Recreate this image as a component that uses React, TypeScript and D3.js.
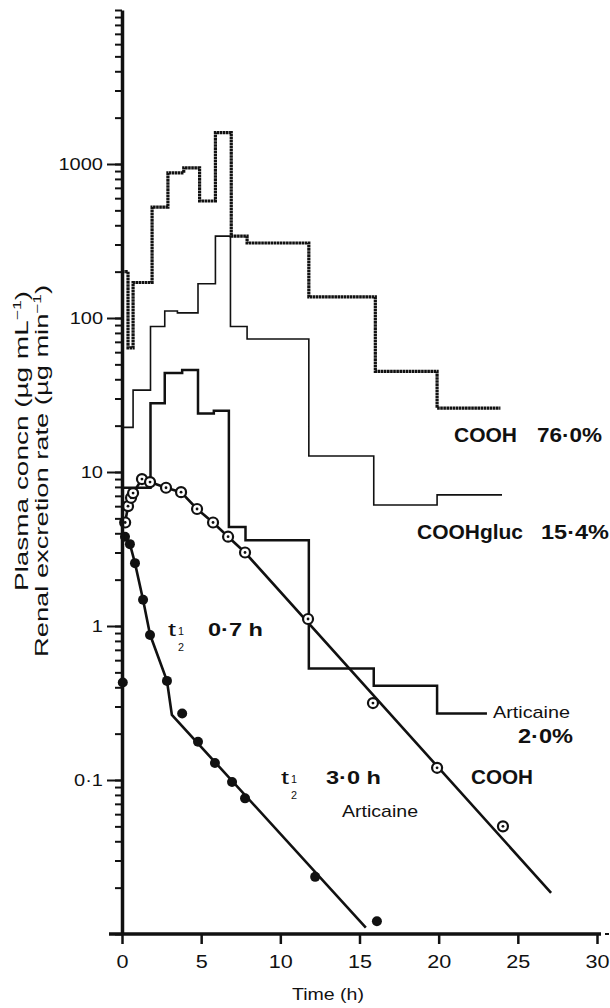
import React, { useEffect, useRef } from 'react';
import * as d3 from 'd3';

// renal excretion rate (µg/min), step edges in hours
const coohEdges = [0, 0.38, 0.7, 1.9, 2.9, 3.9, 4.9, 5.9, 6.9, 7.9, 11.8, 16, 19.9, 23.9];
const coohRate = [200, 64, 170, 525, 875, 945, 575, 1600, 340, 307, 137, 45, 26];

const glucEdges = [0, 0.7, 1.8, 2.7, 3.5, 4.8, 5.9, 6.85, 7.9, 11.8, 15.9, 19.9, 24];
const glucRate = [19.5, 34, 88, 111, 108, 167, 340, 88, 73, 12.7, 6.1, 7.1];

const artEdges = [0, 1.8, 2.7, 3.8, 4.8, 5.8, 6.75, 7.8, 11.8, 15.9, 19.9, 23.05];
const artRate = [7.9, 28, 44, 46, 24, 25, 4.4, 3.6, 0.53, 0.41, 0.27];

// plasma concentration (µg/mL)
const coohPlasmaT = [0.2, 0.38, 0.57, 0.7, 1.26, 1.77, 2.78, 3.73, 4.74, 5.75, 6.7, 7.77, 11.75, 15.85, 19.9, 24.06];
const coohPlasmaC = [4.7, 6.0, 6.8, 7.3, 9.0, 8.6, 7.9, 7.4, 5.75, 4.7, 3.8, 3.0, 1.11, 0.316, 0.12, 0.05];
const coohFitT = [0.2, 0.38, 0.57, 0.7, 1.26, 1.77, 2.78, 3.73, 4.74, 5.75, 6.7, 7.77, 27.1];
const coohFitC = [4.7, 6.0, 6.8, 7.3, 9.0, 8.6, 7.9, 7.4, 5.75, 4.7, 3.8, 3.0, 0.0185];

const artPlasmaT = [0.05, 0.19, 0.5, 0.82, 1.33, 1.77, 2.84, 3.8, 4.8, 5.87, 6.95, 7.77, 12.2, 16.1];
const artPlasmaC = [0.43, 3.8, 3.4, 2.56, 1.48, 0.875, 0.44, 0.27, 0.177, 0.129, 0.097, 0.076, 0.0235, 0.0121];
const artFitT = [0, 0.5, 0.82, 1.33, 1.77, 2.84, 3.15, 15.4];
const artFitC = [4.0, 3.4, 2.56, 1.48, 0.88, 0.44, 0.265, 0.011];

const xTicks = [0, 5, 10, 15, 20, 25, 30];
const yLabelTicks = [0.1, 1, 10, 100, 1000];

const W = 610;
const H = 1008;
const FONT = '"Liberation Sans", Arial, Helvetica, sans-serif';
const INK = '#111';

const App = () => {
  const svgRef = useRef(null);

  useEffect(() => {
    renderChart();
  }, []);

  const addText = (svg, str, x0, base, size, weight, len) => {
    svg.append('text')
      .attr('x', x0)
      .attr('y', base)
      .attr('font-family', FONT)
      .attr('font-size', size)
      .attr('font-weight', weight)
      .attr('fill', INK)
      .attr('textLength', len)
      .attr('lengthAdjust', 'spacingAndGlyphs')
      .text(str);
  };

  const addHalfLife = (svg, x0, base) => {
    addText(svg, 't', x0, base, 18, 'normal', 8);
    addText(svg, '1', x0 + 10, base - 1, 11, 'normal', 6);
    addText(svg, '2', x0 + 10, base + 15, 11, 'normal', 6);
  };

  const renderChart = () => {
    const svg = d3.select(svgRef.current);
    svg.selectAll('*').remove();

    const x = d3.scaleLinear().domain([0, 30]).range([122, 597]);
    const y = d3.scaleLog().domain([0.01, 10000]).range([934, 10]);

    // step lines for renal excretion rates
    const stepLine = d3.line()
      .x(d => x(d[0]))
      .y(d => y(d[1]))
      .curve(d3.curveStepAfter);
    const stepPoints = (edges, vals) =>
      vals.map((v, i) => [edges[i], v]).concat([[edges[edges.length - 1], vals[vals.length - 1]]]);

    svg.append('path')
      .attr('d', stepLine(stepPoints(glucEdges, glucRate)))
      .attr('fill', 'none')
      .attr('stroke', INK)
      .attr('stroke-width', 1.6);

    svg.append('path')
      .attr('d', stepLine(stepPoints(artEdges, artRate)))
      .attr('fill', 'none')
      .attr('stroke', INK)
      .attr('stroke-width', 2.5);

    svg.append('path')
      .attr('d', stepLine(stepPoints(coohEdges, coohRate)))
      .attr('fill', 'none')
      .attr('stroke', INK)
      .attr('stroke-width', 3.2)
      .attr('stroke-dasharray', '2.6 0.5');

    // fitted plasma curves
    const line = d3.line().x(d => x(d[0])).y(d => y(d[1]));
    svg.append('path')
      .attr('d', line(coohFitT.map((t, i) => [t, coohFitC[i]])))
      .attr('fill', 'none')
      .attr('stroke', INK)
      .attr('stroke-width', 2.6);
    svg.append('path')
      .attr('d', line(artFitT.map((t, i) => [t, artFitC[i]])))
      .attr('fill', 'none')
      .attr('stroke', INK)
      .attr('stroke-width', 2.6);

    // plasma points
    const art = svg.append('g');
    art.selectAll('circle')
      .data(artPlasmaT.map((t, i) => [t, artPlasmaC[i]]))
      .enter()
      .append('circle')
      .attr('cx', d => x(d[0]))
      .attr('cy', d => y(d[1]))
      .attr('r', 5)
      .attr('fill', INK);

    const cooh = svg.append('g')
      .selectAll('g')
      .data(coohPlasmaT.map((t, i) => [t, coohPlasmaC[i]]))
      .enter()
      .append('g')
      .attr('transform', d => `translate(${x(d[0])},${y(d[1])})`);
    cooh.append('circle')
      .attr('r', 5)
      .attr('fill', '#fff')
      .attr('stroke', INK)
      .attr('stroke-width', 2.2);
    cooh.append('circle')
      .attr('r', 1.4)
      .attr('fill', INK);

    // y axis
    const minor = [];
    d3.range(-2, 4).forEach(e => d3.range(1, 10).forEach(k => minor.push(+(k * Math.pow(10, e)).toPrecision(3))));
    minor.push(10000);

    const yAxisMinor = svg.append('g')
      .attr('transform', `translate(${x(0)},0)`)
      .call(d3.axisLeft(y).tickValues(minor).tickSize(7).tickSizeOuter(0).tickFormat(() => ''));
    yAxisMinor.select('.domain').attr('stroke', INK).attr('stroke-width', 3.5);
    yAxisMinor.selectAll('.tick line').attr('stroke', INK).attr('stroke-width', 2);

    const yAxisMajor = svg.append('g')
      .attr('transform', `translate(${x(0)},0)`)
      .call(d3.axisLeft(y).tickValues(yLabelTicks).tickSize(15).tickPadding(4)
        .tickFormat(d => String(d).replace('.', '·')));
    yAxisMajor.select('.domain').remove();
    yAxisMajor.selectAll('.tick line').attr('stroke', INK).attr('stroke-width', 2);
    yAxisMajor.selectAll('.tick text')
      .attr('font-family', FONT)
      .attr('font-size', 16)
      .attr('fill', INK)
      .attr('x', -19 / 1.25)
      .attr('transform', 'scale(1.25,1)');

    // x axis
    const xAxis = svg.append('g')
      .attr('transform', `translate(0,${y(0.01)})`)
      .call(d3.axisBottom(x).tickValues(xTicks).tickSize(10).tickPadding(11));
    xAxis.select('.domain').remove();
    xAxis.selectAll('.tick line').attr('stroke', INK).attr('stroke-width', 2.5);
    xAxis.selectAll('.tick text')
      .attr('font-family', FONT)
      .attr('font-size', 18)
      .attr('fill', INK)
      .attr('transform', 'scale(1.2,1)');
    xAxis.append('line')
      .attr('x1', x(0) - 13).attr('x2', x(30) + 4)
      .attr('stroke', INK).attr('stroke-width', 3.5);
    xAxis.append('line')
      .attr('x1', x(30) + 8).attr('x2', x(30) + 12)
      .attr('stroke', INK).attr('stroke-width', 2);

    // axis titles
    addText(svg, 'Time (h)', 292, 1000, 16, 'normal', 72);

    const yTitle = (cx, cy, main, len) => {
      const t = svg.append('text')
        .attr('transform', `translate(${cx},${cy}) rotate(-90)`)
        .attr('text-anchor', 'middle')
        .attr('font-family', FONT)
        .attr('font-size', 17.5)
        .attr('fill', INK)
        .attr('textLength', len)
        .attr('lengthAdjust', 'spacingAndGlyphs');
      t.append('tspan').text(main);
      t.append('tspan').attr('font-size', 11).attr('dy', -7).text('−1');
      t.append('tspan').attr('dy', 7).text(')');
    };
    yTitle(28, 441, 'Plasma concn (µg mL', 300);
    yTitle(48, 471, 'Renal excretion rate (µg min', 372);

    // annotations
    addText(svg, 'COOH', 454, 442, 21, 'bold', 63);
    addText(svg, '76·0%', 537, 442, 21, 'bold', 65);
    addText(svg, 'COOHgluc', 417, 539, 20, 'bold', 106);
    addText(svg, '15·4%', 541, 539, 20, 'bold', 68);
    addText(svg, 'Articaine', 493, 718, 17, 'normal', 77);
    addText(svg, '2·0%', 518, 743, 21, 'bold', 55);
    addText(svg, 'COOH', 471, 784, 20, 'bold', 62);

    addHalfLife(svg, 168, 636);
    addText(svg, '0·7 h', 208, 636, 18, 'bold', 55);
    addHalfLife(svg, 281, 784);
    addText(svg, '3·0 h', 326, 784, 19, 'bold', 55);
    addText(svg, 'Articaine', 342, 817, 17, 'normal', 76);
  };

  return (
    <svg
      ref={svgRef}
      width={W}
      height={H}
      style={{ position: 'absolute', left: 0, top: 0, background: '#fff' }}
    ></svg>
  );
};

export default App;
